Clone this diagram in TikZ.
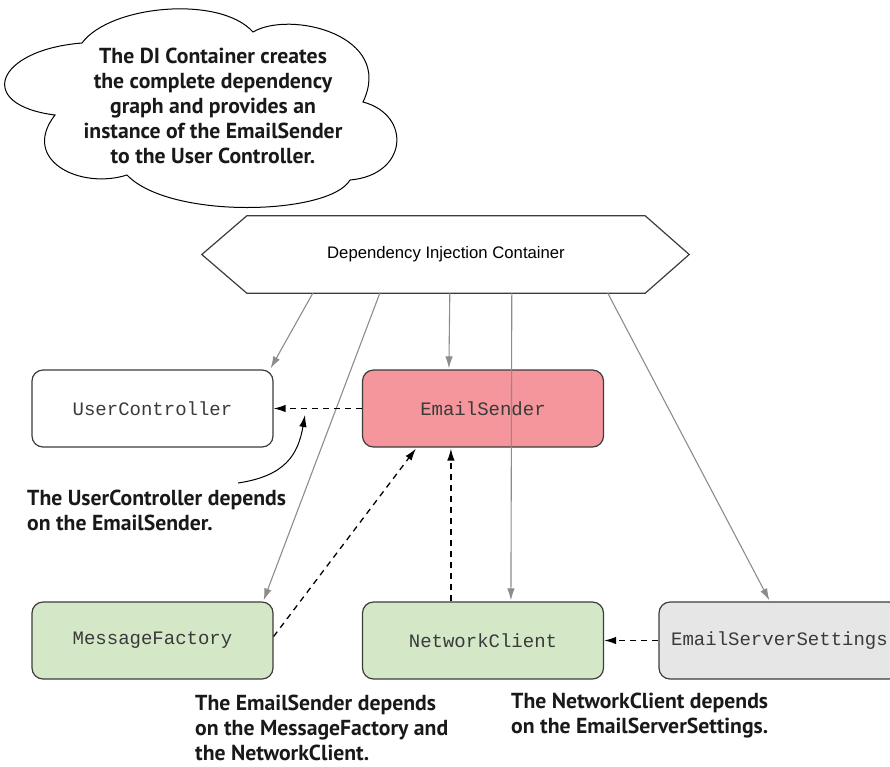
\documentclass[tikz,border=0pt]{standalone}
\usepackage{fontspec}
\setmainfont{Liberation Sans}
\newfontfamily\notefont{PT Sans}
\newfontfamily\codefont{Liberation Mono}
\usetikzlibrary{arrows.meta,calc}
\definecolor{boxline}{HTML}{3C3C3C}
\definecolor{graylink}{HTML}{8C8C8C}
\definecolor{pinkfill}{HTML}{F4969B}
\definecolor{greenfill}{HTML}{D4E8C8}
\definecolor{grayfill}{HTML}{E6E6E6}
\definecolor{codetext}{HTML}{3A3A3A}
\tikzset{
  classbox/.style={draw=boxline, line width=1.2pt, rounded corners=11pt,
    minimum width=241pt, minimum height=77pt, inner sep=0pt,
    text=codetext, font=\codefont\fontsize{19}{22}\selectfont},
  inject/.style={draw=graylink, line width=1.1pt,
    -{Latex[length=12pt,width=7.5pt]}},
  depend/.style={draw=black, line width=1.3pt, dash pattern=on 6pt off 5pt,
    -{Latex[length=12pt,width=7.5pt]}},
  note/.style={font=\notefont\bfseries\fontsize{21.7}{25}\selectfont, text=black!90, inner sep=0pt},
}
\begin{document}
\begin{tikzpicture}[x=1pt,y=-1pt]
\useasboundingbox (0,0) rectangle (890,766);
% cloud
\draw[line width=1pt, fill=white]
  (82,43) .. controls (110,5) and (220,-5) .. (253,32)
  .. controls (290,10) and (395,35) .. (363,102)
  .. controls (412,115) and (408,175) .. (350,180)
  .. controls (330,215) and (170,220) .. (127,175)
  .. controls (80,190) and (20,160) .. (55,115)
  .. controls (-25,105) and (-5,50) .. cycle;
\node[note, align=center] (cloudtext) at (213,106)
  {The DI Container creates\\the complete dependency\\graph and provides an\\instance of the EmailSender\\to the User Controller.};
% container
\node[minimum width=398pt, minimum height=77pt, inner sep=0pt,
  font=\fontsize{16.7}{20}\selectfont] (hex) at (446,254.5) {Dependency Injection Container};
\draw[line width=1.2pt, draw=boxline] (hex.north west) -- (hex.north east) -- ($(hex.east)+(44,0)$)
  -- (hex.south east) -- (hex.south west) -- ($(hex.west)+(-45,0)$) -- cycle;
% classes
\node[classbox] (uc) at (152.5,408.5) {UserController};
\node[classbox, fill=pinkfill] (es) at (483,408.5) {EmailSender};
\node[classbox, fill=greenfill] (mf) at (152.5,640.5) {MessageFactory};
\node[classbox, fill=greenfill] (nc) at (483,640.5) {NetworkClient};
\node[classbox, fill=grayfill] (ess) at (779.5,640.5) {EmailServerSettings};
% injection links
\draw[inject] ($(hex.south west)+(66,0)$) -- ($(uc.north east)+(-3,-1)$);
\draw[inject] ($(hex.south west)+(133,0)$) -- ($(mf.north east)+(-10,-1)$);
\draw[inject] ($(hex.south west)+(203,0)$) -- ($(es.north west)+(87,-1)$);
\draw[inject] ($(hex.south west)+(265,0)$) -- ($(nc.north west)+(149,-1)$);
\draw[inject] ($(hex.south west)+(361,0)$) -- ($(ess.north west)+(111,-1)$);
% dependencies
\draw[depend] (es.west) -- (uc.east);
\draw[depend] ($(nc.north west)+(89,0)$) -- ($(es.south west)+(89,1)$);
\draw[depend] ($(mf.east)+(0,-4)$) -- ($(es.south west)+(54,1)$);
\draw[depend] (ess.west) -- (nc.east);
% notes
\node[note, align=left, anchor=west] (ucnote) at (27,510)
  {The UserController depends\\on the EmailSender.};
\coordinate (ucnotetip) at (305,415);
\draw[line width=1pt, -{Latex[length=12pt,width=7.5pt]}]
  (238,483) .. controls (285,476) and (298,455) .. (ucnotetip);
\node[note, align=left, anchor=west] (esnote) at (195,728)
  {The EmailSender depends\\on the MessageFactory and\\the NetworkClient.};
\node[note, align=left, anchor=west] (ncnote) at (511,715.5)
  {The NetworkClient depends\\on the EmailServerSettings.};
\end{tikzpicture}
\end{document}
